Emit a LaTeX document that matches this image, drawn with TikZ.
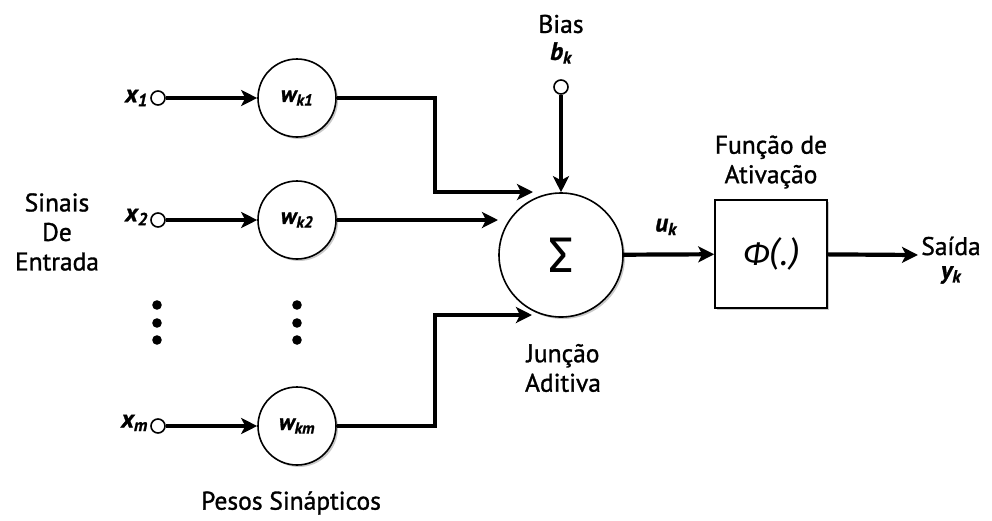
\documentclass[tikz,border=0pt]{standalone}
\usepackage{fontspec}
\setmainfont{PT Sans}[FakeBold=1.2]
\newfontfamily\grk{Fira Sans}
\usetikzlibrary{arrows.meta,shadows}
\begin{document}
\begin{tikzpicture}[x=1pt,y=-1pt,
  shd/.style={drop shadow={shadow xshift=2pt,shadow yshift=-2pt,opacity=0.35,fill=black!60}},
  wc/.style={circle,draw,line width=1.6pt,minimum size=78pt,inner sep=0pt,fill=white,shd,
    font=\fontsize{23}{26}\selectfont\bfseries\itshape},
  inp/.style={circle,draw,line width=1.6pt,minimum size=14pt,inner sep=0pt,fill=white},
  arr/.style={line width=4.2pt,-{Stealth[length=16pt,width=16pt,inset=4pt]}},
  lbl/.style={font=\fontsize{25.5}{29.5}\selectfont,align=center,inner sep=0pt},
  var/.style={font=\fontsize{25}{29}\selectfont\bfseries\itshape,inner sep=0pt}]
\useasboundingbox (0,0) rectangle (992,520);

% input terminals
\node[inp] (x1) at (158,98) {};
\node[inp] (x2) at (158,220) {};
\node[inp] (xm) at (158,426) {};
\node[var,anchor=east] (lx1) at (148,98) {x\textsubscript{1}};
\node[var,anchor=east] (lx2) at (148,217) {x\textsubscript{2}};
\node[var,anchor=east] (lxm) at (148,423) {x\textsubscript{m}};

% weights
\node[wc] (w1) at (297,98) {w\textsubscript{k1}};
\node[wc] (w2) at (297,220) {w\textsubscript{k2}};
\node[wc] (wm) at (297,426) {w\textsubscript{km}};

% dots
\foreach \y in {305,323,340}{
  \fill (157,\y) circle (4.8pt);
  \fill (297,\y) circle (4.8pt);
}

% summing junction
\node[circle,draw,line width=1.6pt,minimum size=124pt,inner sep=0pt,fill=white,shd,
  font=\fontsize{50}{50}\selectfont\grk] (sum) at (561,255) {Σ};

% bias
\node[inp] (b) at (561,87) {};
\node[lbl] (lbias) at (561,24) {Bias};
\node[var] (lbk) at (561,53) {b\textsubscript{k}};

% activation box
\node[draw,line width=1.6pt,minimum width=112pt,minimum height=108pt,fill=white,shd,
  font=\fontsize{33}{33}\selectfont\grk\itshape] (box) at (771,254) {Φ(.)};
\node[lbl] (lfun) at (771,162) {Função de\\Ativação};

% connectors
\coordinate (j1) at (435,192);
\coordinate (e1) at (533,192);
\coordinate (e2) at (498,220);
\coordinate (j3) at (435,315);
\coordinate (e3) at (532,315);
\coordinate (out) at (918,255);

\draw[arr] (x1) -- (w1);
\draw[arr] (x2) -- (w2);
\draw[arr] (xm) -- (wm);
\draw[arr] (w1.east) -| (j1) -- (e1);
\draw[arr] (w2) -- (e2);
\draw[arr] (wm.east) -| (j3) -- (e3);
\draw[arr] (b) -- (sum.north);
\draw[arr] (sum) -- (box);
\draw[arr] (box) -- (out);

% labels
\node[var] (luk) at (666,227) {u\textsubscript{k}};
\node[lbl] (lsaida) at (951,246) {Saída};
\node[var] (lyk) at (951,275) {y\textsubscript{k}};
\node[lbl] (ljun) at (563,368) {Junção\\Aditiva};
\node[lbl] (lsin) at (57,232) {Sinais\\De\\Entrada};
\node[lbl] (lpes) at (291,503) {Pesos Sinápticos};
\end{tikzpicture}
\end{document}
